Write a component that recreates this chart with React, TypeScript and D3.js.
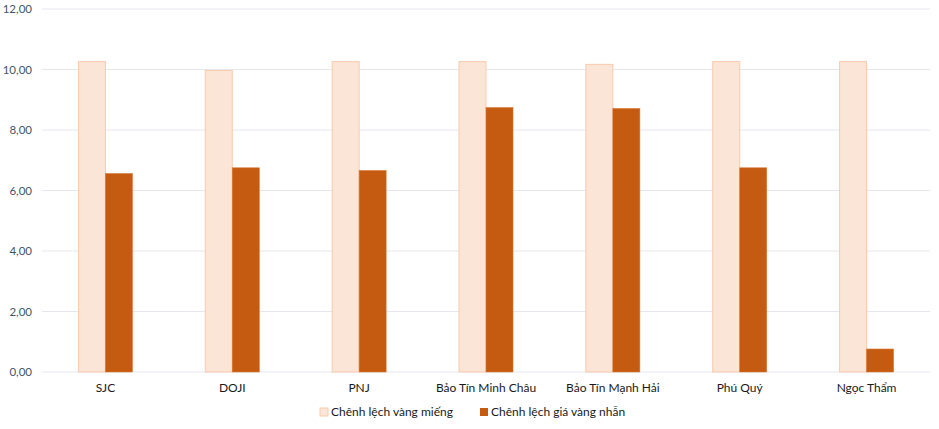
import React from "react";
import * as d3 from "d3";

const categories = ["SJC", "DOJI", "PNJ", "Bảo Tín Minh Châu", "Bảo Tín Mạnh Hải", "Phú Quý", "Ngọc Thẩm"];
const barGold = [10.26, 9.97, 10.26, 10.26, 10.17, 10.26, 10.26];
const ringGold = [6.56, 6.75, 6.66, 8.74, 8.71, 6.75, 0.76];
const seriesNames = ["Chênh lệch vàng miếng", "Chênh lệch giá vàng nhẫn"];
const yTicks = [0, 2, 4, 6, 8, 10, 12];

const W = 939;
const H = 429;
const left = 42;
const right = 930;
const top = 9;
const bottom = 372;
const font = "Lato, 'Open Sans', sans-serif";

export default function App() {
  const x = d3.scaleBand<string>().domain(categories).range([left, right]);
  const y = d3.scaleLinear().domain([0, 12]).range([bottom, top]);
  const barW = 27;
  const fmt = (v: number) => v.toFixed(2).replace(".", ",");

  return (
    <svg width={W} height={H} style={{ position: "absolute", left: 0, top: 0, background: "#fff" }}>
      {yTicks.map((t) => (
        <g key={t}>
          <line x1={left} x2={right} y1={y(t)} y2={y(t)} stroke="#e4e8ee" strokeWidth={1.2} />
          <text x={32} y={y(t)} dy="0.35em" textAnchor="end" fontFamily={font} fontSize={11.5} fill="#44546a">
            {fmt(t)}
          </text>
        </g>
      ))}
      {categories.map((c, i) => {
        const cx = (x(c) as number) + x.bandwidth() / 2;
        return (
          <g key={c}>
            <rect x={cx - barW} y={y(barGold[i])} width={barW} height={bottom - y(barGold[i])} fill="#fbe5d6" stroke="#f8cbad" strokeWidth={1} />
            <rect x={cx} y={y(ringGold[i])} width={barW} height={bottom - y(ringGold[i])} fill="#c55a11" stroke="#d9752f" strokeWidth={0.6} />
            <text x={cx} y={392} textAnchor="middle" fontFamily={font} fontSize={12} fill="#1a1a1a">
              {c}
            </text>
          </g>
        );
      })}
      <g>
        <rect x={320} y={408} width={8} height={8} fill="#fbe5d6" stroke="#f8cbad" />
        <text x={331} y={412} dy="0.35em" fontFamily={font} fontSize={12} fill="#1a1a1a">{seriesNames[0]}</text>
        <rect x={480} y={408} width={8} height={8} fill="#c55a11" />
        <text x={491} y={412} dy="0.35em" fontFamily={font} fontSize={12} fill="#1a1a1a">{seriesNames[1]}</text>
      </g>
    </svg>
  );
}
